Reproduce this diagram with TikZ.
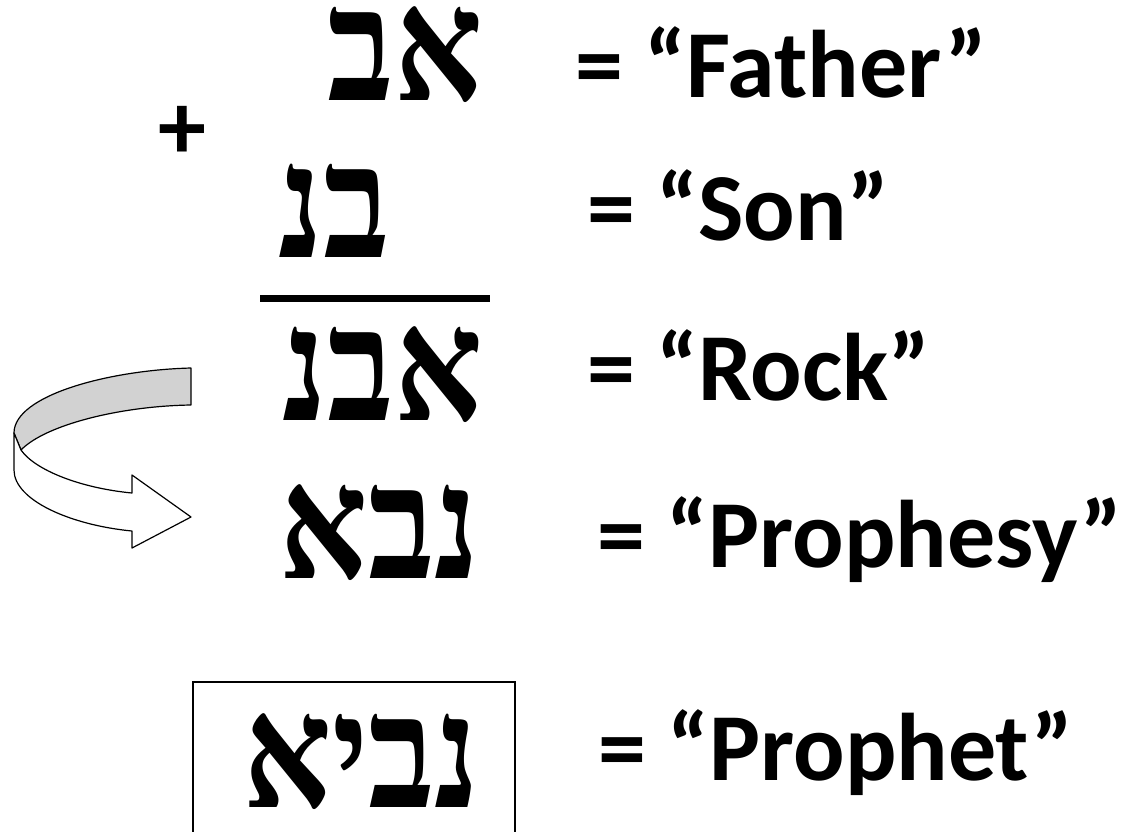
\documentclass[tikz,border=0pt]{standalone}
\usepackage{graphicx}
\usepackage{fontspec}
\setmainfont{Carlito}
\newfontfamily\hebfont[Script=Hebrew]{Liberation Serif}
\TeXXeTstate=1
\newcommand{\hebword}[1]{\scalebox{1}[1.15]{\beginR #1\endR}}
\begin{document}
\begin{tikzpicture}[x=1pt,y=-1pt,
  eng/.style={anchor=base west, inner sep=0pt, font=\fontsize{96}{110}\selectfont\bfseries},
  heb/.style={anchor=base east, inner sep=0pt, font=\fontsize{138}{160}\selectfont\hebfont\bfseries},
  ribbon/.style={draw=black, line width=1.2pt, line join=round},
  ]
\useasboundingbox (0,0) rectangle (1131,831);
% Hebrew words
\node[heb] (ab)   at (483,100) {\hebword{אב}};
\node[heb] (bn)   at (390,257) {\hebword{בנ}};
\node[heb] (abn)  at (483,420) {\hebword{אבנ}};
\node[heb] (nba)  at (480,578) {\hebword{נבא}};
\node[heb] (nbya) at (480,807) {\hebword{נביא}};
% English glosses
\node[eng] (father)   at (575,97)  {= “Father”};
\node[eng] (son)      at (587,240) {= “Son”};
\node[eng] (rock)     at (587,400) {= “Rock”};
\node[eng] (prophesy) at (597,567) {= “Prophesy”};
\node[eng] (prophet)  at (598,780) {= “Prophet”};
% plus sign and sum line
\node[inner sep=0pt, font=\fontsize{96}{110}\selectfont\bfseries] (plus) at (182,133) {+};
\coordinate (lineL) at (260,298);
\coordinate (lineR) at (490,298);
\draw[line width=7pt] (lineL) -- (lineR);
% box around the prophet word (bottom runs off the page)
\draw[line width=1.5pt] (193,850) -- (193,682) -- (515,682) -- (515,850);
% curved ribbon arrow
\filldraw[ribbon, fill=gray!35]
  (191,368) .. controls (110,370) and (14,395) .. (14,433)
  -- (21,450) .. controls (45,425) and (120,406) .. (191,405) -- cycle;
\filldraw[ribbon, fill=white]
  (14,433) -- (14,470) .. controls (14,500) and (70,525) .. (132,531)
  -- (132,548) -- (191,517) -- (132,475) -- (132,493)
  .. controls (80,488) and (35,470) .. (21,450) -- cycle;
\end{tikzpicture}
\end{document}
